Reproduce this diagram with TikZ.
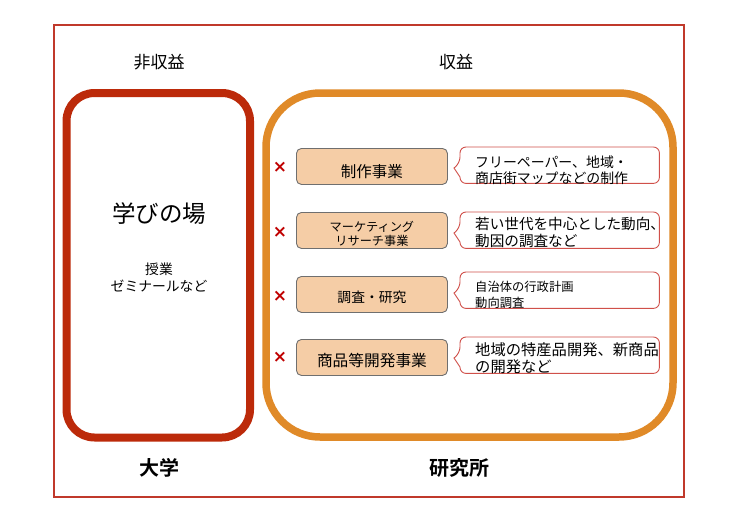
\documentclass[tikz,border=0pt]{standalone}
\usepackage{fontspec}
\setmainfont{Noto Sans CJK JP}
\newfontfamily\jpbold{Noto Sans CJK JP Bold}
\newfontfamily\crossfont{DejaVu Sans Bold}
\definecolor{outerred}{HTML}{C0392B}
\definecolor{univred}{HTML}{BC2A0A}
\definecolor{laborange}{HTML}{E08A28}
\definecolor{tanfill}{HTML}{F5CDA6}
\definecolor{boxgray}{HTML}{6F6F6F}
\definecolor{calloutred}{HTML}{D0504A}
\definecolor{crossred}{HTML}{C00000}
\begin{document}
\begin{tikzpicture}[x=1pt,y=-1pt,
  txt/.style={inner sep=0pt, align=center, text=black},
  bizbox/.style={draw=boxgray, line width=0.9pt, fill=tanfill, rounded corners=5pt,
    minimum width=151pt, minimum height=36pt, anchor=north west, inner sep=0pt, align=center},
  calloutshape/.style={minimum width=199pt, minimum height=36pt, anchor=north west, inner sep=0pt},
  calloutline/.style={draw=calloutred, line width=0.9pt, fill=white},
  callouttext/.style={anchor=west, inner sep=0pt, align=left},
  cross/.style={text=crossred, inner sep=0pt, font=\crossfont\fontsize{17}{17}\selectfont}
]
\useasboundingbox (0,0) rectangle (740,523);
\fill[white] (0,0) rectangle (740,523);
% outer frame
\draw[outerred, line width=1.6pt] (54,25) rectangle (684,497);
% top labels
\node[txt, font=\fontsize{17}{17}\selectfont] (nonprofit) at (159,62) {非収益};
\node[txt, font=\fontsize{17}{17}\selectfont] (profit) at (456,62) {収益};
% big boxes
\draw[univred, line width=8pt, rounded corners=28pt] (66.5,93) rectangle (250,437.5);
\draw[laborange, line width=7.5pt, rounded corners=54pt] (266,93) rectangle (673,437);
% university content
\node[txt, font=\fontsize{23.5}{23.5}\selectfont] (manabi) at (159,214) {学びの場};
\node[txt, font=\fontsize{13.8}{17}\selectfont] (jugyo) at (159,278) {授業\\ゼミナールなど};
% bottom labels
\node[txt, font=\jpbold\fontsize{20}{20}\selectfont] (univ) at (159,468) {大学};
\node[txt, font=\jpbold\fontsize{20}{20}\selectfont] (lab) at (459,468) {研究所};
% business boxes
\node[bizbox, font=\fontsize{15.5}{15.5}\selectfont] (b1) at (296,148) {\raisebox{-11pt}[0pt][0pt]{制作事業}};
\node[bizbox, font=\fontsize{12.2}{15}\selectfont] (b2) at (296,212) {\raisebox{-15.5pt}[0pt][0pt]{\shortstack{マーケティング\\リサーチ事業}}};
\node[bizbox, font=\fontsize{13.8}{13.8}\selectfont] (b3) at (296,276) {\raisebox{-8.2pt}[0pt][0pt]{調査・研究}};
\node[bizbox, font=\fontsize{15.7}{15.7}\selectfont] (b4) at (296,339) {\raisebox{-9pt}[0pt][0pt]{商品等開発事業}};
% crosses
\node[cross] (x1) at (280,167) {×};
\node[cross] (x2) at (280,232) {×};
\node[cross] (x3) at (280,296) {×};
\node[cross] (x4) at (280,357) {×};
% callouts
\foreach \i/\yy in {1/147, 2/212, 3/272, 4/337}{
  \node[calloutshape] (c\i) at (460,\yy) {};
  \draw[calloutline] ([yshift=-30pt]c\i.north west) [rounded corners=6pt] -- (c\i.south west) -- (c\i.south east) -- (c\i.north east) -- (c\i.north west) -- ([yshift=-16pt]c\i.north west) [sharp corners] -- ([xshift=-6pt,yshift=-21pt]c\i.north west) -- cycle;
}
\node[callouttext, font=\fontsize{13.9}{16}\selectfont] (t1) at ([xshift=15pt,yshift=-5pt]c1.west) {フリーペーパー、地域・\\商店街マップなどの制作};
\node[callouttext, font=\fontsize{14.6}{17}\selectfont] (t2) at ([xshift=15pt,yshift=-2.5pt]c2.west) {若い世代を中心とした動向、\\動因の調査など};
\node[callouttext, font=\fontsize{12.3}{16}\selectfont] (t3) at ([xshift=15pt,yshift=-5pt]c3.west) {自治体の行政計画\\動向調査};
\node[callouttext, font=\fontsize{15.3}{17}\selectfont] (t4) at ([xshift=15pt,yshift=-3.5pt]c4.west) {地域の特産品開発、新商品\\の開発など};
\end{tikzpicture}
\end{document}
